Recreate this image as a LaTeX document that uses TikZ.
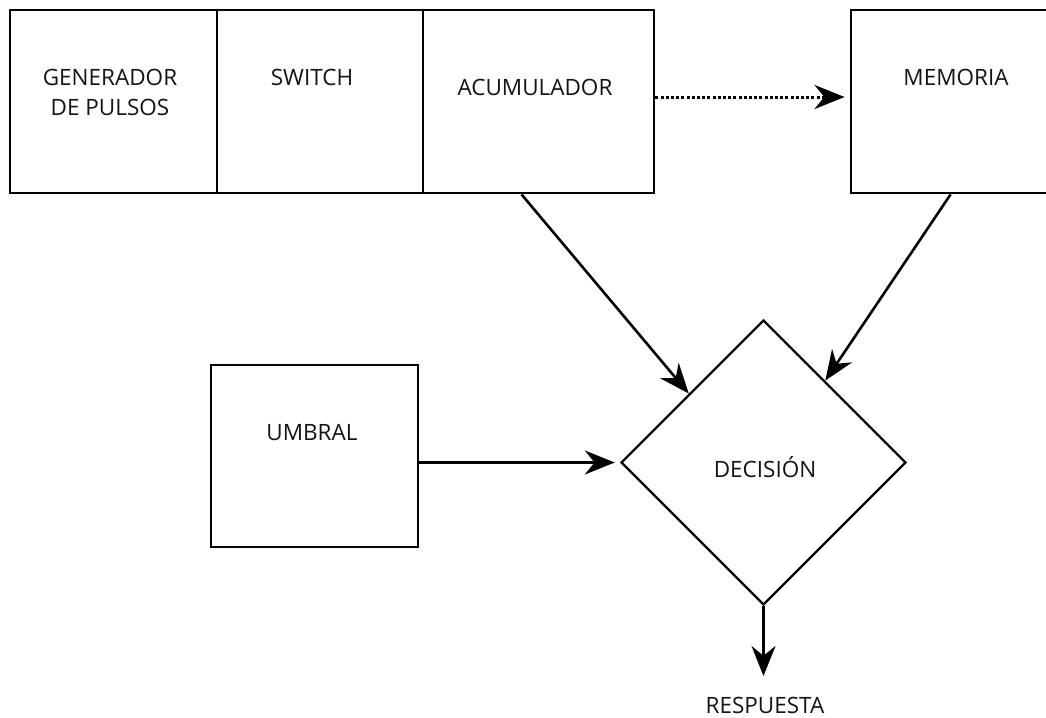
\documentclass[tikz,border=0pt]{standalone}
\usepackage{fontspec}
\setmainfont{Open Sans}
\usetikzlibrary{arrows.meta,shapes.geometric,calc}
\begin{document}
\begin{tikzpicture}[x=1pt,y=-1pt,
  box/.style={draw, line width=2.9pt, inner sep=0pt, minimum height=183pt},
  lbl/.style={font=\fontsize{22.5}{30}\selectfont, text=black!92, align=center, inner sep=0pt},
  arr/.style={line width=2.6pt, -{Stealth[length=30pt,width=24pt]}},
]
\clip (0,0) rectangle (1046,717);
\fill[white] (0,0) rectangle (1046,717);
% boxes
\node[box, minimum width=207pt] (gen) at (113.5,101.5) {};
\node[box, minimum width=206pt] (sw) at (320,101.5) {};
\node[box, minimum width=231pt] (acu) at (538.5,101.5) {};
\node[box, minimum width=209pt] (mem) at (955.5,101.5) {};
\node[box, minimum width=207pt, minimum height=182pt] (umb) at (314.5,456) {};
\node[draw, line width=2.4pt, diamond, inner sep=0pt, minimum width=285pt, minimum height=285pt] (dec) at (763.5,462.5) {};
% labels
\node[lbl] (tgen) at (110,92) {GENERADOR\\DE PULSOS};
\node[lbl] (tsw) at (312,77) {SWITCH};
\node[lbl] (tacu) at (535,87) {ACUMULADOR};
\node[lbl] (tmem) at (956,77) {MEMORIA};
\node[lbl] (tumb) at (312,433) {UMBRAL};
\node[lbl] (tdec) at (765,467) {DECISIÓN};
\node[lbl] (resp) at (765,705) {RESPUESTA};
\coordinate (respin) at (763.5,676);
% connectors
\draw[arr, line width=3pt, dash pattern=on 3pt off 2.2pt, shorten >=5pt] ([yshift=4.5pt]acu.east) -- ([yshift=4.5pt]mem.west);
\draw[arr] ([xshift=100pt]acu.south west) -- ($(dec.north)!0.52!(dec.west)$);
\draw[arr] ([xshift=101pt]mem.south west) -- ($(dec.north)!0.43!(dec.east)$);
\draw[arr, shorten >=5pt] (umb.east |- dec.west) -- (dec.west);
\draw[arr] (dec.south) -- (respin);
\end{tikzpicture}
\end{document}
